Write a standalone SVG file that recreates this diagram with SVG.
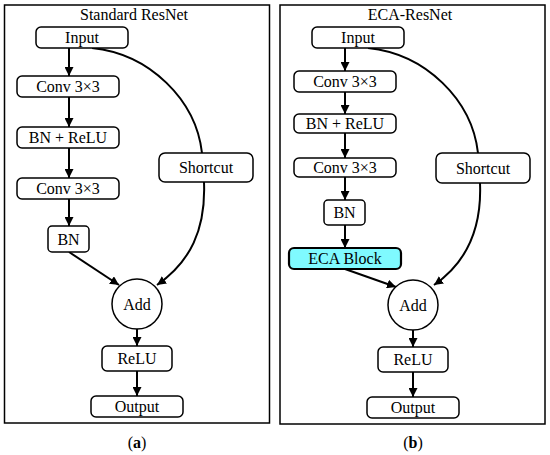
<svg xmlns="http://www.w3.org/2000/svg" width="550" height="455" viewBox="0 0 550 455">
<defs>
<style>
.frame{fill:#fff;stroke:#000;stroke-width:1.5}
.box{fill:#fff;stroke:#000;stroke-width:1.5}
.eca{fill:#7ffaff;stroke:#000;stroke-width:2.2}
.t{font-family:"Liberation Serif",serif;font-size:16px;fill:#000;text-anchor:middle}
.title{font-family:"Liberation Serif",serif;font-size:16px;fill:#000;text-anchor:middle}
.lbl{font-family:"Liberation Serif",serif;font-size:16px;fill:#000;text-anchor:middle}
.c{fill:none;stroke:#000;stroke-width:2}
</style>
<marker id="ah" viewBox="0 0 10 10" refX="10" refY="5" markerWidth="4.5" markerHeight="4.5" orient="auto" markerUnits="strokeWidth">
<path d="M0,0 L10,5 L0,10 z" fill="#000"/>
</marker>
</defs>
<rect width="550" height="455" fill="#fff"/>
<rect class="frame" x="4.5" y="5" width="265" height="418"/>
<rect class="frame" x="280" y="5" width="265" height="419"/>
<text class="title" x="134" y="20">Standard ResNet</text>
<text class="title" x="410" y="20">ECA-ResNet</text>

<g id="connectors">
<path class="c" d="M69,48 V76" marker-end="url(#ah)"/>
<path class="c" d="M69,97 V127" marker-end="url(#ah)"/>
<path class="c" d="M69,148 V178" marker-end="url(#ah)"/>
<path class="c" d="M69,199 V226" marker-end="url(#ah)"/>
<path class="c" d="M69,252 L119,285" marker-end="url(#ah)"/>
<path class="c" d="M92,48 C150,54 196,100 202,153"/>
<path class="c" d="M204,182 C206,230 190,262 157,285" marker-end="url(#ah)"/>
<path class="c" d="M137,329 V346" marker-end="url(#ah)"/>
<path class="c" d="M137,371 V396" marker-end="url(#ah)"/>

<path class="c" d="M345,48 V71" marker-end="url(#ah)"/>
<path class="c" d="M345,92 V114" marker-end="url(#ah)"/>
<path class="c" d="M345,133 V158" marker-end="url(#ah)"/>
<path class="c" d="M345,177 V200" marker-end="url(#ah)"/>
<path class="c" d="M345,225 V248" marker-end="url(#ah)"/>
<path class="c" d="M345,269 L396,287" marker-end="url(#ah)"/>
<path class="c" d="M368,48 C426,54 472,100 478,153"/>
<path class="c" d="M480,183 C482,230 466,263 434,285" marker-end="url(#ah)"/>
<path class="c" d="M413,330 V347" marker-end="url(#ah)"/>
<path class="c" d="M413,372 V397" marker-end="url(#ah)"/>
</g>

<g id="a-input"><rect class="box" x="36" y="27" width="92" height="21" rx="5"/><text class="t" x="82" y="43">Input</text></g>
<g id="a-conv1"><rect class="box" x="17" y="76" width="102" height="21" rx="5"/><text class="t" x="68" y="92">Conv 3×3</text></g>
<g id="a-bnrelu"><rect class="box" x="17" y="127" width="102" height="21" rx="5"/><text class="t" x="68" y="143">BN + ReLU</text></g>
<g id="a-conv2"><rect class="box" x="17" y="178" width="102" height="21" rx="5"/><text class="t" x="68" y="194">Conv 3×3</text></g>
<g id="a-bn"><rect class="box" x="48" y="226" width="41" height="26" rx="4"/><text class="t" x="68.5" y="245">BN</text></g>
<g id="a-shortcut"><rect class="box" x="159" y="153" width="94" height="29" rx="6"/><text class="t" x="206" y="173">Shortcut</text></g>
<g id="a-add"><circle class="box" cx="137" cy="304" r="25"/><text class="t" x="137" y="309.5">Add</text></g>
<g id="a-relu"><rect class="box" x="102" y="346" width="70" height="25" rx="5"/><text class="t" x="137" y="364">ReLU</text></g>
<g id="a-output"><rect class="box" x="91" y="396" width="92" height="21" rx="5"/><text class="t" x="137" y="412">Output</text></g>

<g id="b-input"><rect class="box" x="312" y="27" width="92" height="21" rx="5"/><text class="t" x="358" y="43">Input</text></g>
<g id="b-conv1"><rect class="box" x="294" y="71" width="102" height="21" rx="5"/><text class="t" x="345" y="87">Conv 3×3</text></g>
<g id="b-bnrelu"><rect class="box" x="294" y="114" width="102" height="19" rx="5"/><text class="t" x="345" y="129">BN + ReLU</text></g>
<g id="b-conv2"><rect class="box" x="294" y="158" width="102" height="19" rx="5"/><text class="t" x="345" y="173">Conv 3×3</text></g>
<g id="b-bn"><rect class="box" x="324" y="200" width="41" height="25" rx="4"/><text class="t" x="344.5" y="218">BN</text></g>
<g id="b-eca"><rect class="eca" x="289" y="248" width="112" height="21" rx="5"/><text class="t" x="345" y="264">ECA Block</text></g>
<g id="b-shortcut"><rect class="box" x="436" y="153" width="94" height="30" rx="6"/><text class="t" x="483" y="173.5">Shortcut</text></g>
<g id="b-add"><circle class="box" cx="413" cy="305" r="25"/><text class="t" x="413" y="310.5">Add</text></g>
<g id="b-relu"><rect class="box" x="378" y="347" width="70" height="25" rx="5"/><text class="t" x="413" y="365">ReLU</text></g>
<g id="b-output"><rect class="box" x="367" y="397" width="92" height="21" rx="5"/><text class="t" x="413" y="413">Output</text></g>

<text class="lbl" x="137" y="448">(<tspan font-weight="bold">a</tspan>)</text>
<text class="lbl" x="413" y="448">(<tspan font-weight="bold">b</tspan>)</text>
</svg>
